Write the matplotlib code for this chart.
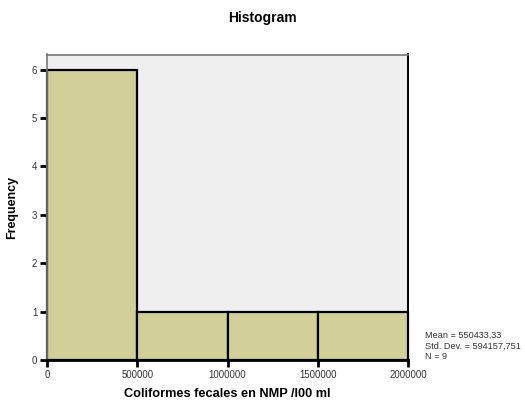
import numpy as np
import matplotlib.pyplot as plt

plt.rcParams['font.family'] = ['Liberation Sans', 'DejaVu Sans']

# histogram bins and counts
bin_edges = [0, 500000, 1000000, 1500000, 2000000]
counts = [6, 1, 1, 1]
x_ticks = [0, 500000, 1000000, 1500000, 2000000]
y_ticks = [0, 1, 2, 3, 4, 5, 6]
stats_text = "Mean = 550433,33\nStd. Dev. = 594157,751\nN = 9"

fig = plt.figure(figsize=(5.25, 4.05), dpi=100)
ax = fig.add_axes([47 / 525, 1 - 360 / 405, (408 - 47) / 525, (360 - 54.5) / 405])
ax.set_facecolor("#efefef")

left = np.array(bin_edges[:-1])
widths = np.diff(bin_edges)
ax.bar(left, counts, width=widths, align="edge", color="#d3cf9a",
       edgecolor="black", linewidth=1.6, zorder=2, clip_on=False)

ax.set_xlim(0, 2000000)
ax.set_ylim(0, 6.31)
ax.set_xticks(x_ticks)
ax.set_xticklabels([str(v) for v in x_ticks])
ax.set_yticks(y_ticks)

ax.spines["left"].set_color("#777777")
ax.spines["left"].set_linewidth(1.2)
ax.spines["bottom"].set_color("black")
ax.spines["bottom"].set_linewidth(2.0)
ax.spines["top"].set_color("#777777")
ax.spines["top"].set_linewidth(1.2)
ax.spines["right"].set_color("black")
ax.spines["right"].set_linewidth(1.4)

ax.tick_params(axis="both", length=5, width=2, labelsize=6.9, colors="black",
               labelcolor="#333333", pad=2)

ax.set_xlabel("Coliformes fecales en NMP /l00 ml", fontsize=9.2, fontweight="bold", labelpad=6)
ax.set_ylabel("Frequency", fontsize=9, fontweight="bold", labelpad=10)
fig.text(0.5, 1 - 18 / 405, "Histogram", ha="center", va="center",
         fontsize=10, fontweight="bold")

fig.text(425 / 525, 1 - 346 / 405, stats_text, ha="left", va="center",
         fontsize=6.6, color="#333333", linespacing=1.2)

fig.savefig("out.png", dpi=100)
